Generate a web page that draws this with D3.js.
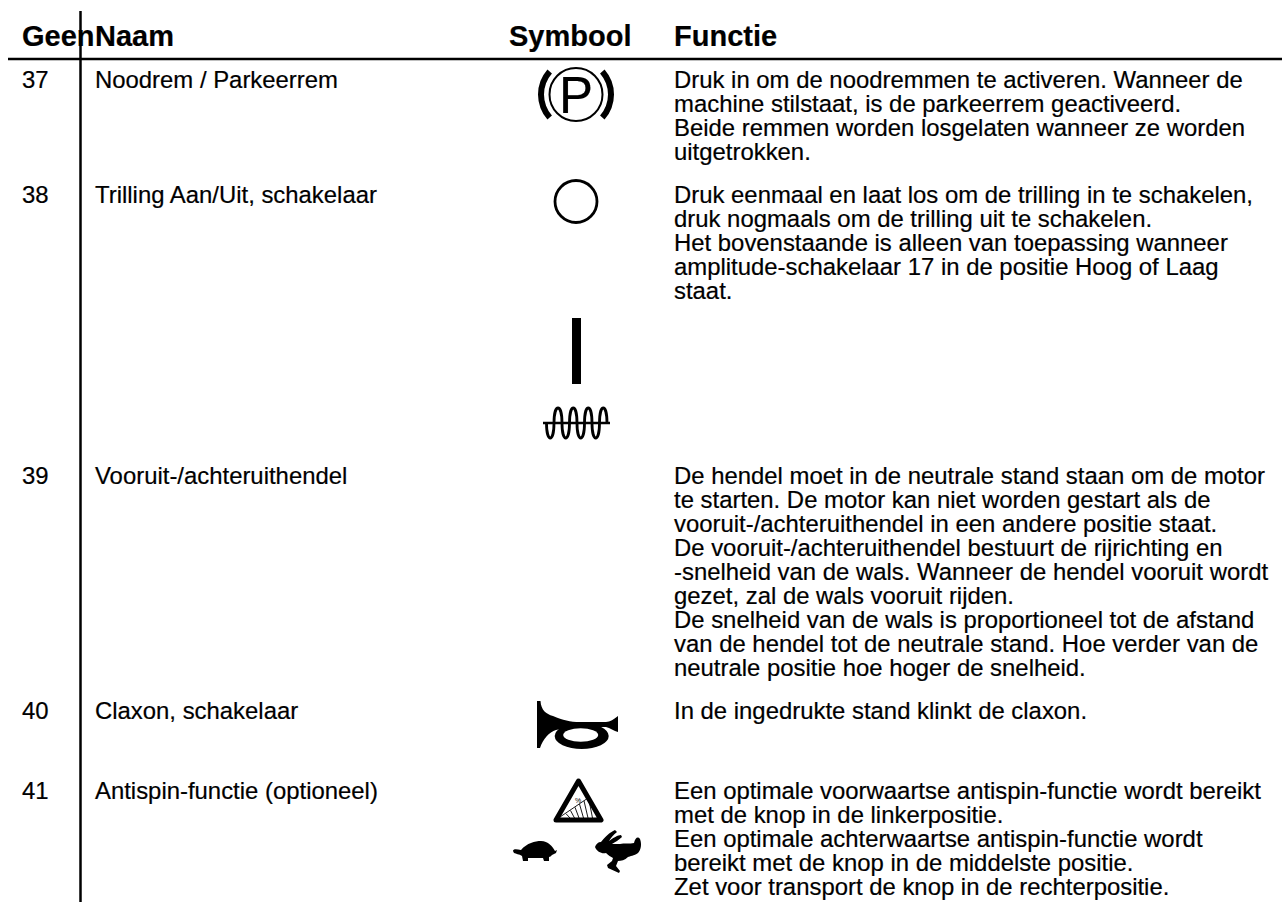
<!DOCTYPE html>
<html><head><meta charset="utf-8">
<script src="https://cdn.jsdelivr.net/npm/d3@7/dist/d3.min.js"></script>
<style>html,body{margin:0;padding:0;background:#fff}svg{display:block}text{font-family:"Liberation Sans",Arial,sans-serif;fill:#000;stroke:#000;stroke-width:.2}</style>
</head><body><svg id="c" width="1282" height="902"></svg>
<script>
const headers = ["Geen","Naam","Symbool","Functie"];
const numbers = ["37","38","39","40","41"];
const names = ["Noodrem / Parkeerrem","Trilling Aan/Uit, schakelaar","Vooruit-/achteruithendel","Claxon, schakelaar","Antispin-functie (optioneel)"];
const functions = [
 ["Druk in om de noodremmen te activeren. Wanneer de","machine stilstaat, is de parkeerrem geactiveerd.","Beide remmen worden losgelaten wanneer ze worden","uitgetrokken."],
 ["Druk eenmaal en laat los om de trilling in te schakelen,","druk nogmaals om de trilling uit te schakelen.","Het bovenstaande is alleen van toepassing wanneer","amplitude-schakelaar 17 in de positie Hoog of Laag","staat."],
 ["De hendel moet in de neutrale stand staan om de motor","te starten. De motor kan niet worden gestart als de","vooruit-/achteruithendel in een andere positie staat.","De vooruit-/achteruithendel bestuurt de rijrichting en","-snelheid van de wals. Wanneer de hendel vooruit wordt","gezet, zal de wals vooruit rijden.","De snelheid van de wals is proportioneel tot de afstand","van de hendel tot de neutrale stand. Hoe verder van de","neutrale positie hoe hoger de snelheid."],
 ["In de ingedrukte stand klinkt de claxon."],
 ["Een optimale voorwaartse antispin-functie wordt bereikt","met de knop in de linkerpositie.","Een optimale achterwaartse antispin-functie wordt","bereikt met de knop in de middelste positie.","Zet voor transport de knop in de rechterpositie."]
];
const rowBaselines = [88,203,484,719,799];
const svg = d3.select("#c");
const colX = d3.scaleOrdinal().domain(headers).range([22,95,509,674]);
const FS=23.9, LH=24;

svg.selectAll("text.h").data(headers).join("text").attr("class","h")
 .attr("x",d=>colX(d)).attr("y",46).attr("font-size",29).attr("font-weight","bold").text(d=>d);
svg.append("line").attr("x1",8).attr("x2",1282).attr("y1",59).attr("y2",59).attr("stroke","#000").attr("stroke-width",2.6);
svg.append("line").attr("x1",80.5).attr("x2",80.5).attr("y1",11).attr("y2",902).attr("stroke","#000").attr("stroke-width",2.5);

svg.selectAll("text.n").data(numbers).join("text").attr("class","n")
 .attr("x",colX("Geen")).attr("y",(d,i)=>rowBaselines[i]).attr("font-size",FS).text(d=>d);
svg.selectAll("text.m").data(names).join("text").attr("class","m")
 .attr("x",colX("Naam")).attr("y",(d,i)=>rowBaselines[i]).attr("font-size",FS).text(d=>d);
const fg = svg.selectAll("g.f").data(functions).join("g").attr("class","f");
fg.each(function(lines,i){
 d3.select(this).selectAll("text").data(lines).join("text")
  .attr("x",colX("Functie")).attr("y",(d,j)=>rowBaselines[i]+j*LH).attr("font-size",FS).text(d=>d);
});

const ink = svg.append("g");
// parking brake
const pb = ink.append("g").attr("transform","translate(576,94.5)");
pb.append("circle").attr("r",26.5).attr("fill","none").attr("stroke","#000").attr("stroke-width",2);
pb.append("text").attr("text-anchor","middle").attr("y",18.5).attr("font-size",51).text("P");
const arc=d3.arc();
[-1,1].forEach(s=>{
 pb.append("path").attr("d",arc({innerRadius:32,outerRadius:38,startAngle:s*(Math.PI/2-0.72),endAngle:s*(Math.PI/2+0.72)})).attr("fill","#000");
});
// switch circle
ink.append("circle").attr("cx",576).attr("cy",201.5).attr("r",21).attr("fill","none").attr("stroke","#000").attr("stroke-width",2.8);
// I bar
ink.append("rect").attr("x",572).attr("y",318).attr("width",9).attr("height",66).attr("fill","#000");
// vibration
ink.append("line").attr("x1",543).attr("x2",610).attr("y1",423).attr("y2",423).attr("stroke","#000").attr("stroke-width",2.6);
ink.append("path").attr("fill","none").attr("stroke","#000").attr("stroke-width",2.8)
 .attr("d","M546.5,423 C546.5,443 554,443 554,423 C554,403 562,403 562,423 C562,443 569.5,443 569.5,423 C569.5,403 577,403 577,423 C577,443 584.5,443 584.5,423 C584.5,403 592,403 592,423 C592,443 599.5,443 599.5,423 C599.5,403 607,403 607,423");
// horn
ink.append("ellipse").attr("cx",581.7).attr("cy",736).attr("rx",27).attr("ry",13).attr("fill","#000");
ink.append("path").attr("fill","#000").attr("d","M537,701 L540.5,701 C541,710 546,714 553,716 C563,720 570,722 580,722 L606,722 C610,722 614,719 618,716 L618,732 C614,731 610,728 606,727 C590,727 570,726 556,730 C549,732 543,739 540,748 L537,748 Z");
ink.append("ellipse").attr("cx",580.7).attr("cy",735).attr("rx",17.5).attr("ry",6.8).attr("fill","#fff");
// warning triangle
ink.append("path").attr("d","M578.5,781 L601,820 L556,820 Z").attr("fill","none").attr("stroke","#000").attr("stroke-width",5).attr("stroke-linejoin","round");
const hatch = ink.append("g").attr("stroke","#000").attr("stroke-width",0.9);
[0,1,2,3,4,5].forEach(i=>{const x=566+4.5*i; hatch.append("line").attr("x1",x).attr("y1",818-(x-560)*20/28).attr("x2",x+4).attr("y2",818);});
ink.append("line").attr("x1",560).attr("y1",817).attr("x2",588).attr("y2",798).attr("stroke","#000").attr("stroke-width",0.9);
ink.append("text").attr("x",578).attr("y",803).attr("text-anchor","middle").attr("font-size",7).style("stroke","none").text("%");
// turtle
ink.append("path").attr("fill","#000").attr("d","M513,851 C513,849 516,849 521,850 C527,843 535,841 541,841 C548,841 553,847 555,851 L557,850 L556,853 L552,855 C551,856 550,857 549,857 L549,861 L544,861 L543,858 L528,858 L528,861 L523,861 L522,856 C519,854 516,854 514,853 Z");
// rabbit
ink.append("path").attr("fill","#000").attr("d","M595,847 C596,844 598,842 601,842 C604,838 610,832 615,830 L617,832 C613,835 611,838 609,841 C613,838 618,835 621,835 L622,837 C619,840 615,842 612,844 L620,844 C624,843 630,844 634,843 C635,838 638,836 640,839 C642,844 641,850 638,853 C634,856 630,856 628,857 C625,860 621,861 618,861 L616,866 L620,871 L619,873 L608,868 L607,865 L612,861 L613,858 C611,857 608,855 606,853 C602,854 597,852 595,847 Z");
</script></body></html>
